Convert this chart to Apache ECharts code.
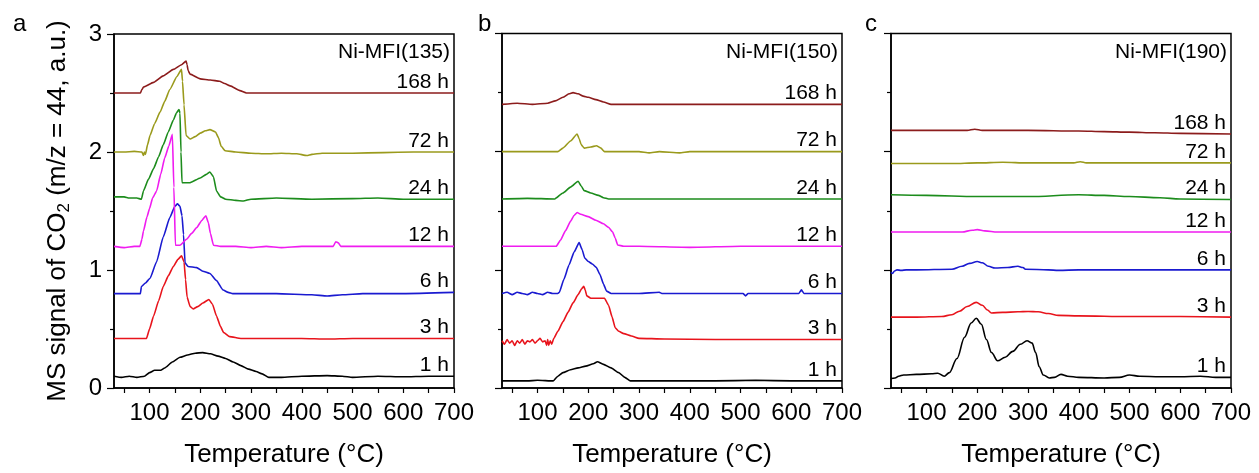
<!DOCTYPE html>
<html>
<head>
<meta charset="utf-8">
<script src="https://cdn.jsdelivr.net/npm/echarts@6/dist/echarts.min.js"></script>
<style>
html,body{margin:0;padding:0;background:#fff;}
#main{width:1259px;height:473px;}
</style>
</head>
<body>
<div id="main"></div>
<script>
// ---------- data (temperature °C, MS signal a.u.) ----------
const seriesNames = ["1 h", "3 h", "6 h", "12 h", "24 h", "72 h", "168 h"];
const seriesColors = ["#000000", "#e8141c", "#1a1ad0", "#f01cf0", "#1c8c1c", "#9a9a1c", "#8c1c1c"];
const panelNames = ["Ni-MFI(135)", "Ni-MFI(150)", "Ni-MFI(190)"];
const panelLetters = ["a", "b", "c"];
const xLabelValues = [100, 200, 300, 400, 500, 600, 700];
const xTickValues = [50, 100, 150, 200, 250, 300, 350, 400, 450, 500, 550, 600, 650, 700];
const yTickLabels = [0, 1, 2, 3];

// Panel a: Ni-MFI(135)
const a_1h = [[30,0.10],[45,0.09],[60,0.10],[75,0.09],[90,0.10],[100,0.13],[110,0.15],[122,0.15],[130,0.17],[145,0.22],[160,0.26],[175,0.28],[190,0.295],[205,0.30],[220,0.29],[235,0.27],[250,0.25],[265,0.22],[280,0.19],[295,0.16],[310,0.14],[322,0.12],[335,0.09],[360,0.09],[400,0.10],[450,0.105],[480,0.10],[500,0.09],[550,0.10],[600,0.095],[650,0.10],[700,0.10]];
const a_3h = [[30,0.42],[60,0.42],[94,0.42],[100,0.50],[108,0.61],[118,0.74],[127,0.86],[137,0.95],[147,1.03],[156,1.09],[163,1.12],[168,1.07],[171,0.92],[174,0.77],[180,0.69],[186,0.67],[195,0.69],[205,0.72],[217,0.75],[224,0.71],[232,0.61],[240,0.52],[246,0.47],[258,0.435],[280,0.42],[350,0.42],[400,0.42],[450,0.415],[500,0.42],[600,0.42],[700,0.42]];
const a_6h = [[30,0.80],[82,0.80],[84,0.86],[92,0.89],[101,0.93],[114,1.07],[127,1.28],[140,1.445],[150,1.54],[155,1.56],[160,1.54],[164,1.46],[167,1.30],[170,1.06],[176,1.03],[193,1.02],[205,0.99],[219,0.97],[232,0.91],[245,0.83],[255,0.81],[264,0.80],[350,0.80],[420,0.79],[450,0.78],[480,0.79],[520,0.80],[600,0.80],[700,0.81]];
const a_12h = [[30,1.20],[50,1.19],[70,1.20],[81,1.20],[85,1.26],[88,1.33],[95,1.45],[100,1.52],[106,1.61],[114,1.67],[122,1.81],[130,1.95],[138,2.05],[145,2.15],[148,1.70],[151,1.21],[160,1.21],[173,1.26],[183,1.31],[193,1.36],[203,1.42],[211,1.46],[216,1.40],[220,1.31],[226,1.21],[240,1.20],[270,1.20],[300,1.19],[330,1.20],[360,1.19],[400,1.20],[440,1.20],[462,1.20],[467,1.24],[472,1.23],[477,1.20],[500,1.20],[600,1.20],[700,1.20]];
const a_24h = [[30,1.62],[50,1.62],[60,1.61],[75,1.61],[84,1.60],[88,1.67],[98,1.77],[108,1.86],[118,1.96],[127,2.06],[137,2.17],[147,2.27],[153,2.33],[158,2.36],[160,2.33],[162,2.00],[164,1.74],[180,1.74],[200,1.78],[212,1.81],[219,1.83],[226,1.79],[232,1.67],[240,1.62],[250,1.60],[270,1.59],[285,1.585],[300,1.60],[350,1.61],[420,1.60],[500,1.605],[550,1.61],[600,1.60],[650,1.60],[700,1.60]];
const a_72h = [[30,2.00],[50,2.00],[70,2.005],[85,2.00],[88,1.97],[90,2.00],[92,1.98],[96,2.06],[101,2.14],[110,2.24],[121,2.34],[130,2.43],[140,2.53],[154,2.64],[163,2.70],[165,2.60],[168,2.40],[172,2.14],[180,2.11],[190,2.13],[200,2.16],[210,2.18],[219,2.19],[230,2.17],[236,2.12],[241,2.05],[249,2.01],[270,2.00],[300,1.99],[330,1.985],[360,1.99],[390,1.985],[410,1.97],[420,1.98],[440,1.99],[500,1.99],[560,1.995],[620,2.00],[700,2.00]];
const a_168h = [[30,2.50],[60,2.50],[82,2.50],[85,2.53],[88,2.55],[108,2.59],[127,2.645],[147,2.70],[163,2.74],[172,2.77],[174,2.74],[176,2.69],[180,2.66],[200,2.62],[220,2.61],[238,2.60],[248,2.58],[259,2.56],[278,2.52],[291,2.50],[400,2.50],[550,2.50],[700,2.50]];

// Panel b: Ni-MFI(150)
const b_1h = [[30,0.06],[80,0.06],[100,0.065],[131,0.06],[140,0.10],[150,0.13],[165,0.155],[180,0.17],[195,0.185],[210,0.205],[218,0.222],[230,0.20],[245,0.17],[260,0.13],[272,0.09],[283,0.06],[350,0.06],[450,0.06],[530,0.065],[600,0.06],[700,0.06]];
const b_3h = [[30,0.40],[35,0.37],[40,0.41],[45,0.38],[50,0.40],[55,0.36],[60,0.40],[65,0.38],[70,0.41],[75,0.37],[80,0.40],[85,0.39],[90,0.41],[95,0.38],[100,0.40],[105,0.42],[110,0.39],[115,0.40],[118,0.36],[120,0.41],[122,0.36],[125,0.40],[128,0.37],[132,0.42],[140,0.48],[150,0.56],[160,0.64],[170,0.72],[180,0.79],[187,0.84],[191,0.86],[194,0.83],[197,0.78],[205,0.76],[220,0.76],[232,0.76],[240,0.70],[247,0.60],[253,0.51],[260,0.48],[270,0.46],[285,0.44],[300,0.42],[350,0.415],[450,0.41],[550,0.41],[650,0.41],[700,0.41]];
const b_6h = [[30,0.80],[40,0.81],[50,0.79],[60,0.81],[70,0.80],[80,0.79],[90,0.81],[100,0.80],[110,0.79],[120,0.81],[130,0.80],[140,0.80],[143,0.81],[152,0.92],[162,1.04],[172,1.15],[182,1.23],[188,1.17],[193,1.10],[200,1.07],[208,1.05],[216,1.02],[223,0.96],[230,0.88],[236,0.82],[245,0.80],[300,0.80],[340,0.81],[345,0.80],[400,0.80],[450,0.80],[505,0.80],[510,0.78],[515,0.80],[600,0.80],[615,0.80],[620,0.83],[625,0.80],[700,0.80]];
const b_12h = [[30,1.20],[80,1.20],[137,1.20],[145,1.25],[155,1.33],[165,1.41],[172,1.46],[178,1.485],[185,1.47],[200,1.45],[215,1.42],[230,1.39],[240,1.36],[248,1.32],[253,1.27],[258,1.21],[270,1.20],[300,1.20],[400,1.19],[500,1.20],[600,1.20],[700,1.20]];
const b_24h = [[30,1.60],[80,1.605],[134,1.60],[150,1.65],[165,1.70],[180,1.75],[186,1.71],[192,1.67],[205,1.65],[220,1.63],[230,1.61],[240,1.60],[300,1.60],[400,1.60],[500,1.60],[600,1.60],[700,1.60]];
const b_72h = [[30,2.00],[140,2.00],[150,2.03],[165,2.09],[178,2.15],[182,2.11],[186,2.06],[192,2.03],[205,2.04],[216,2.05],[225,2.03],[232,2.00],[300,2.00],[320,1.99],[340,2.00],[380,1.99],[400,2.00],[700,2.00]];
const b_168h = [[30,2.40],[60,2.41],[90,2.40],[120,2.41],[135,2.43],[150,2.46],[162,2.49],[170,2.50],[180,2.49],[190,2.47],[200,2.46],[215,2.44],[230,2.42],[245,2.40],[300,2.40],[400,2.40],[500,2.40],[600,2.40],[700,2.40]];

// Panel c: Ni-MFI(190)
const c_1h = [[30,0.08],[38,0.085],[45,0.10],[55,0.11],[80,0.115],[110,0.12],[122,0.125],[135,0.10],[145,0.13],[160,0.25],[175,0.43],[188,0.55],[198,0.59],[208,0.54],[218,0.41],[228,0.30],[240,0.23],[255,0.26],[270,0.31],[285,0.37],[298,0.40],[308,0.38],[315,0.30],[322,0.18],[330,0.11],[342,0.085],[352,0.09],[365,0.115],[378,0.10],[400,0.09],[450,0.085],[480,0.09],[500,0.11],[520,0.10],[560,0.095],[600,0.095],[640,0.10],[670,0.09],[700,0.09]];
const c_3h = [[30,0.60],[80,0.60],[130,0.605],[150,0.62],[165,0.65],[180,0.69],[198,0.725],[210,0.70],[220,0.66],[228,0.635],[250,0.64],[280,0.645],[300,0.648],[320,0.645],[340,0.63],[360,0.615],[400,0.61],[500,0.605],[600,0.605],[700,0.60]];
const c_6h = [[30,0.98],[33,0.97],[37,0.99],[42,1.00],[50,0.995],[60,1.00],[80,1.00],[150,1.005],[170,1.03],[185,1.055],[200,1.07],[210,1.06],[222,1.03],[235,1.015],[260,1.02],[280,1.03],[290,1.02],[295,1.005],[340,1.00],[360,0.995],[400,1.00],[500,1.00],[600,1.00],[700,1.00]];
const c_12h = [[30,1.32],[100,1.32],[170,1.32],[190,1.335],[200,1.34],[215,1.33],[240,1.32],[400,1.32],[700,1.32]];
const c_24h = [[30,1.635],[100,1.63],[200,1.62],[300,1.62],[400,1.635],[450,1.63],[500,1.62],[560,1.61],[600,1.60],[700,1.595]];
const c_72h = [[30,1.90],[150,1.90],[200,1.905],[250,1.91],[300,1.905],[350,1.905],[390,1.905],[403,1.915],[415,1.905],[500,1.905],[600,1.905],[700,1.905]];
const c_168h = [[30,2.18],[180,2.18],[195,2.19],[210,2.18],[300,2.18],[400,2.175],[450,2.17],[500,2.165],[550,2.16],[600,2.155],[700,2.15]];

const panelData = [
  [a_1h, a_3h, a_6h, a_12h, a_24h, a_72h, a_168h],
  [b_1h, b_3h, b_6h, b_12h, b_24h, b_72h, b_168h],
  [c_1h, c_3h, c_6h, c_12h, c_24h, c_72h, c_168h]
];

// ---------- layout ----------
const FONT = "'Liberation Sans', Arial, sans-serif";
const grids = [
  {left: 114, top: 34, width: 340, height: 358.5},
  {left: 502, top: 33.5, width: 340, height: 358.5},
  {left: 891, top: 33.5, width: 340, height: 359}
];
const panelSmooth = [0.15, 0.15, 0.35];

const option = {
  animation: false,
  backgroundColor: '#ffffff',
  textStyle: {fontFamily: FONT},
  grid: grids.map(g => Object.assign({show: true, borderColor: '#000', borderWidth: 1.5, backgroundColor: 'transparent'}, g)),
  title: [],
  xAxis: [],
  yAxis: [],
  series: []
};

panelLetters.forEach((l, i) => {
  const lx = [13, 478, 865][i];
  option.title.push({text: l, left: lx, top: 12, padding: 0,
    textStyle: {fontSize: 24, fontWeight: 'normal', color: '#000', fontFamily: FONT}});
  const g = grids[i];
  option.title.push({text: panelNames[i], right: 1259 - (g.left + g.width - 4), top: 42, padding: 0,
    textStyle: {fontSize: 21, fontWeight: 'normal', color: '#000', fontFamily: FONT}});
});

for (let i = 0; i < 3; i++) {
  option.xAxis.push({
    type: 'value', gridIndex: i, min: 30, max: 700,
    name: 'Temperature (°C)', nameLocation: 'middle', nameGap: 54,
    nameTextStyle: {fontSize: 26, color: '#000', fontFamily: FONT},
    axisLine: {show: true, lineStyle: {color: '#000', width: 1.5}},
    axisTick: {show: true, inside: false, length: 5, customValues: xTickValues, lineStyle: {color: '#000', width: 1.2}},
    axisLabel: {show: true, margin: 13, fontSize: 24, color: '#000', fontFamily: FONT, customValues: xLabelValues},
    splitLine: {show: false}
  });
  option.yAxis.push({
    type: 'value', gridIndex: i, min: 0, max: 3, interval: 1,
    name: i === 0 ? 'MS signal of CO{sub|2} (m/z = 44, a.u.)' : '',
    nameLocation: 'middle', nameGap: 41,
    nameTextStyle: {fontSize: 26, color: '#000', fontFamily: FONT,
      rich: {sub: {fontSize: 17, color: '#000', fontFamily: FONT, padding: [14, 0, 0, 0]}}},
    axisLine: {show: true, lineStyle: {color: '#000', width: 1.5}},
    axisTick: {show: true, inside: false, length: 7, lineStyle: {color: '#000', width: 1.2}},
    minorTick: {show: true, splitNumber: 2, length: 4, lineStyle: {color: '#000', width: 1.2}},
    axisLabel: {show: i === 0, margin: 12, fontSize: 24, color: '#000', fontFamily: FONT},
    splitLine: {show: false}
  });
  panelData[i].forEach((d, k) => {
    const last = d[d.length - 1];
    option.series.push({
      type: 'line', xAxisIndex: i, yAxisIndex: i, data: d,
      showSymbol: false, symbol: 'none', smooth: panelSmooth[i], smoothMonotone: 'x',
      lineStyle: {color: seriesColors[k], width: 1.6},
      itemStyle: {color: seriesColors[k]},
      markPoint: {
        symbol: 'circle', symbolSize: 0, silent: true,
        data: [{coord: [last[0], last[1]], value: seriesNames[k]}],
        label: {show: true, position: 'left', distance: 5, offset: [0, -11],
          formatter: seriesNames[k], color: '#000', fontSize: 21, fontFamily: FONT}
      }
    });
  });
}

const chart = echarts.init(document.getElementById('main'), null, {renderer: 'canvas'});
chart.setOption(option);
</script>
</body>
</html>
